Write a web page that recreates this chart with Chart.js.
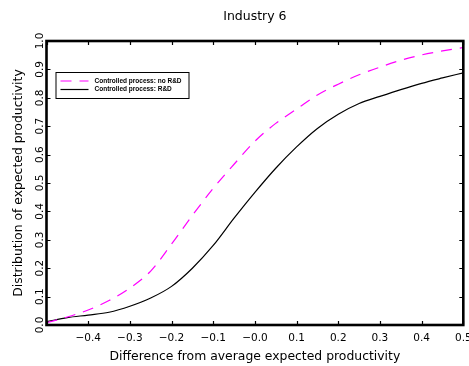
<!DOCTYPE html>
<html>
<head>
<meta charset="utf-8">
<script src="https://cdn.jsdelivr.net/npm/chart.js@4"></script>
<style>
  html, body { margin: 0; padding: 0; background: #fff; }
  #wrap { width: 469px; height: 366px; }
</style>
</head>
<body>
<div id="wrap"><canvas id="chart_ind6"></canvas></div>
<script>
// difference from average expected productivity
const diffs = [-0.5, -0.45, -0.4, -0.35, -0.3, -0.25, -0.2, -0.15, -0.1, -0.05, 0.0,
               0.05, 0.1, 0.15, 0.2, 0.25, 0.3, 0.35, 0.4, 0.45, 0.5];
// distribution of expected productivity
const noRnD   = [0.008, 0.028, 0.053, 0.086, 0.13, 0.19, 0.285, 0.386, 0.481, 0.566, 0.647,
                 0.71, 0.76, 0.81, 0.848, 0.881, 0.908, 0.932, 0.951, 0.965, 0.977];
const withRnD = [0.012, 0.026, 0.035, 0.045, 0.066, 0.095, 0.136, 0.2, 0.28, 0.376, 0.467,
                 0.552, 0.627, 0.692, 0.742, 0.78, 0.805, 0.829, 0.851, 0.87, 0.888];

const xTickLabels = ['', '\u22120.4', '\u22120.3', '\u22120.2', '\u22120.1', '\u22120.0',
                     '0.1', '0.2', '0.3', '0.4', '0.5'];
const yTickLabels = ['0.0', '0.1', '0.2', '0.3', '0.4', '0.5', '0.6', '0.7', '0.8', '0.9', '1.0'];

const FONT = "'DejaVu Sans', sans-serif";

function pts(ys) {
    return diffs.map((x, i) => ({ x: x, y: ys[i] }));
}

// box around the plot, inward ticks on every side, boxed legend
const framePlugin = {
    id: 'frame',
    afterDatasetsDraw(chart) {
        const ctx = chart.ctx;
        const a = chart.chartArea;
        const xs = chart.scales.x, ys = chart.scales.y;
        ctx.save();
        ctx.strokeStyle = '#000';
        ctx.lineWidth = 1.2;
        ctx.beginPath();
        xs.ticks.forEach(t => {
            const px = Math.round(xs.getPixelForValue(t.value)) + 0.5;
            ctx.moveTo(px, a.top); ctx.lineTo(px, a.top + 4);
            ctx.moveTo(px, a.bottom); ctx.lineTo(px, a.bottom - 4);
        });
        ys.ticks.forEach(t => {
            const py = Math.round(ys.getPixelForValue(t.value)) + 0.5;
            ctx.moveTo(a.left, py); ctx.lineTo(a.left + 4, py);
            ctx.moveTo(a.right, py); ctx.lineTo(a.right - 4, py);
        });
        ctx.stroke();

        ctx.lineWidth = 2.6;
        ctx.strokeRect(a.left, a.top, a.right - a.left, a.bottom - a.top);

        // legend
        const lx = a.left + 9, ly = a.top + 31, lw = 133, lh = 26;
        ctx.lineWidth = 1;
        ctx.fillStyle = '#fff';
        ctx.fillRect(lx, ly, lw, lh);
        ctx.strokeRect(lx + 0.5, ly + 0.5, lw, lh);
        ctx.font = "bold 6.5px 'Liberation Sans', Arial, sans-serif";
        ctx.textBaseline = 'middle';
        ctx.fillStyle = '#000';
        chart.data.datasets.forEach((ds, i) => {
            const y = ly + 9 + i * 8.5;
            ctx.beginPath();
            ctx.strokeStyle = ds.borderColor;
            ctx.lineWidth = ds.borderWidth;
            ctx.setLineDash(ds.borderDash || []);
            ctx.moveTo(lx + 5, y);
            ctx.lineTo(lx + 33, y);
            ctx.stroke();
            ctx.setLineDash([]);
            ctx.fillText(ds.label, lx + 39, y);
        });
        ctx.restore();
    }
};

new Chart(document.getElementById('chart_ind6'), {
    type: 'line',
    data: {
        datasets: [
            { label: 'Controlled process: no R&D', data: pts(noRnD), borderColor: '#ff00ff',
              borderWidth: 1.2, borderDash: [11, 8], pointRadius: 0, cubicInterpolationMode: 'monotone' },
            { label: 'Controlled process: R&D', data: pts(withRnD), borderColor: '#000000',
              borderWidth: 1.2, pointRadius: 0, cubicInterpolationMode: 'monotone' }
        ]
    },
    options: {
        responsive: true,
        maintainAspectRatio: false,
        animation: false,
        layout: { padding: { left: 0, right: 5.7, top: 0, bottom: 0 } },
        plugins: {
            legend: { display: false },
            tooltip: { enabled: false },
            title: {
                display: true, text: 'Industry 6', color: '#000', fullSize: false,
                font: { family: FONT, size: 12.5, weight: 'normal', lineHeight: 1.2 },
                padding: { top: 9.5, bottom: 16.5 }
            }
        },
        scales: {
            x: {
                type: 'linear', min: -0.5, max: 0.5,
                grid: { display: false, drawTicks: false },
                border: { display: false },
                ticks: {
                    stepSize: 0.1, color: '#000', padding: 6.5, maxRotation: 0, autoSkip: false,
                    font: { family: FONT, size: 10.5 },
                    callback: (v, i) => xTickLabels[i]
                },
                title: {
                    display: true, text: 'Difference from average expected productivity', color: '#000',
                    font: { family: FONT, size: 12.4 }, padding: { top: 0, bottom: 1.9 }
                },
                afterFit: s => { s.height = 41; s.paddingLeft = 0; s.paddingRight = 0; }
            },
            y: {
                min: 0, max: 1,
                grid: { display: false, drawTicks: false },
                border: { display: false },
                ticks: {
                    stepSize: 0.1, color: '#000', padding: -1.9, minRotation: 90, maxRotation: 90,
                    crossAlign: 'center', autoSkip: false,
                    font: { family: FONT, size: 10.5 },
                    callback: (v, i) => yTickLabels[i]
                },
                title: {
                    display: true, text: 'Distribution of expected productivity', color: '#000',
                    font: { family: FONT, size: 12.4 }, padding: { top: 11.6, bottom: 0 }
                },
                afterFit: s => { s.width = 46.5; s.paddingTop = 0; s.paddingBottom = 0; }
            }
        }
    },
    plugins: [framePlugin]
});
</script>
</body>
</html>
